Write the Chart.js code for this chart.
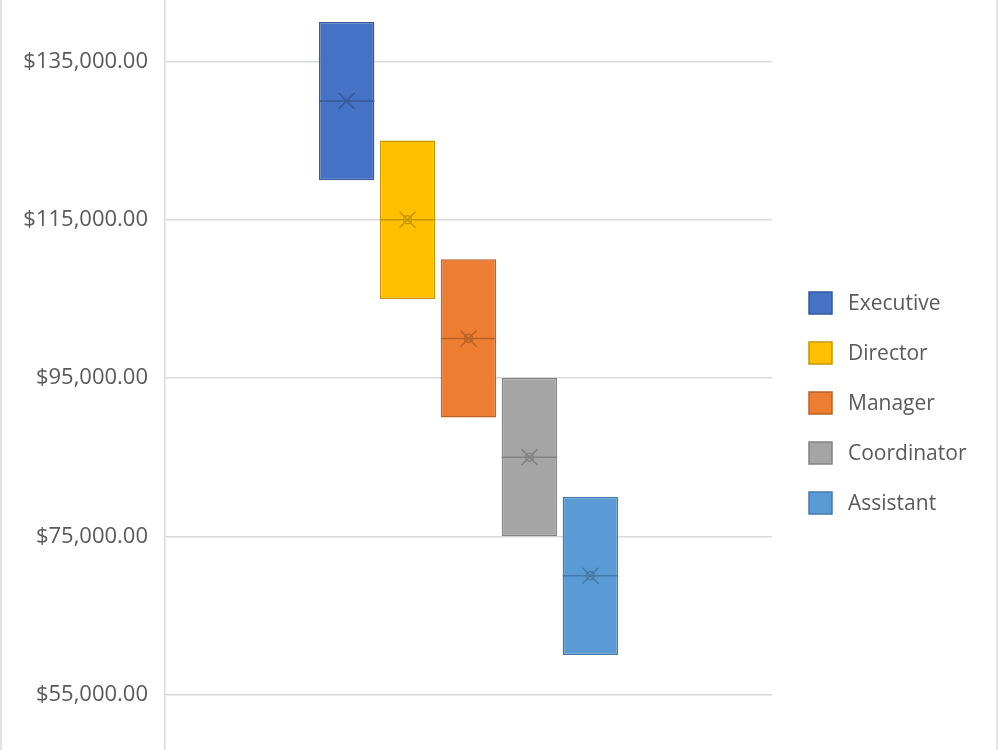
<!DOCTYPE html>
<html>
<head>
<meta charset="utf-8">
<script src="https://cdn.jsdelivr.net/npm/chart.js@4/dist/chart.umd.min.js"></script>
<style>
  html, body { margin: 0; padding: 0; background: #fff; }
  #wrap { width: 1000px; height: 750px; position: relative; }
</style>
</head>
<body>
<div id="wrap"><canvas id="c" width="1000" height="750"></canvas></div>
<script>
// ---- data ----
const categories = ['Salary'];
const seriesNames = ['Executive', 'Director', 'Manager', 'Coordinator', 'Assistant'];
const lows    = [120000, 105000, 90000, 75000, 60000];
const highs   = [140000, 125000, 110000, 95000, 80000];
const medians = [130000, 115000, 100000, 85000, 70000];
const means   = [130000, 115000, 100000, 85000, 70000];
const innerPoints = [null, 115000, 100000, 85000, 70000];
const tickValues = [55000, 75000, 95000, 115000, 135000];

// ---- styles ----
const fills   = ['#4472C4', '#FFC000', '#ED7D31', '#A5A5A5', '#5B9BD5'];
const borders = ['#35599A', '#C79600', '#BA6126', '#838383', '#4479AA'];
const FONT = '"Open Sans", "Liberation Sans", sans-serif';
const TEXT = '#595959';

const datasets = seriesNames.map((name, i) => ({
  label: name,
  data: [[lows[i], highs[i]]],
  backgroundColor: fills[i],
  borderColor: borders[i],
  borderWidth: 1.5,
  borderSkipped: false,
  categoryPercentage: 0.502,
  barPercentage: 0.91
}));

const boxPlugin = {
  id: 'boxExtras',
  afterDatasetsDraw(chart) {
    const ctx = chart.ctx;
    const y = chart.scales.y;
    chart.data.datasets.forEach((ds, i) => {
      const meta = chart.getDatasetMeta(i);
      meta.data.forEach((bar) => {
        const half = bar.width / 2;
        ctx.save();
        ctx.strokeStyle = borders[i];
        ctx.lineWidth = 1.5;
        const my = y.getPixelForValue(medians[i]);
        ctx.beginPath();
        ctx.moveTo(bar.x - half, my);
        ctx.lineTo(bar.x + half, my);
        ctx.stroke();
        const ay = y.getPixelForValue(means[i]);
        const s = 8;
        ctx.beginPath();
        ctx.moveTo(bar.x - s, ay - s);
        ctx.lineTo(bar.x + s, ay + s);
        ctx.moveTo(bar.x + s, ay - s);
        ctx.lineTo(bar.x - s, ay + s);
        ctx.stroke();
        if (innerPoints[i] !== null) {
          const py = y.getPixelForValue(innerPoints[i]);
          ctx.beginPath();
          ctx.arc(bar.x, py, 4, 0, Math.PI * 2);
          ctx.stroke();
        }
        ctx.restore();
      });
    });
  },
  afterDraw(chart) {
    const ctx = chart.ctx;
    ctx.save();
    ctx.strokeStyle = '#D9D9D9';
    ctx.lineWidth = 1.5;
    ctx.beginPath();
    ctx.moveTo(1, 0); ctx.lineTo(1, 750);
    ctx.moveTo(997, 0); ctx.lineTo(997, 750);
    ctx.stroke();
    ctx.font = '21px ' + FONT;
    ctx.textBaseline = 'middle';
    ctx.textAlign = 'left';
    chart.data.datasets.forEach((ds, i) => {
      const cy = 303 + i * 50;
      ctx.fillStyle = ds.backgroundColor;
      ctx.fillRect(809, cy - 11, 23, 22);
      ctx.strokeStyle = ds.borderColor;
      ctx.lineWidth = 1.5;
      ctx.strokeRect(809, cy - 11, 23, 22);
      ctx.fillStyle = TEXT;
      ctx.fillText(ds.label, 848, cy + 1);
    });
    ctx.restore();
  }
};

new Chart(document.getElementById('c'), {
  type: 'bar',
  data: { labels: categories, datasets },
  plugins: [boxPlugin],
  options: {
    responsive: false,
    animation: false,
    layout: { padding: { left: 0, right: 228, top: 0, bottom: 0 } },
    plugins: { legend: { display: false }, tooltip: { enabled: false } },
    scales: {
      x: { display: false, grid: { display: false } },
      y: {
        min: 47990,
        max: 142770,
        afterFit(s) { s.width = 165; s.paddingTop = 0; s.paddingBottom = 0; },
        afterBuildTicks(s) { s.ticks = tickValues.map(v => ({ value: v })); },
        border: { display: true, color: '#D9D9D9', width: 1.5 },
        grid: { color: '#D9D9D9', lineWidth: 1.5, drawTicks: false },
        ticks: {
          padding: 17,
          color: TEXT,
          font: { family: FONT, size: 22 },
          callback: (v) => '$' + Number(v).toLocaleString('en-US', { minimumFractionDigits: 2, maximumFractionDigits: 2 })
        }
      }
    }
  }
});
</script>
</body>
</html>
